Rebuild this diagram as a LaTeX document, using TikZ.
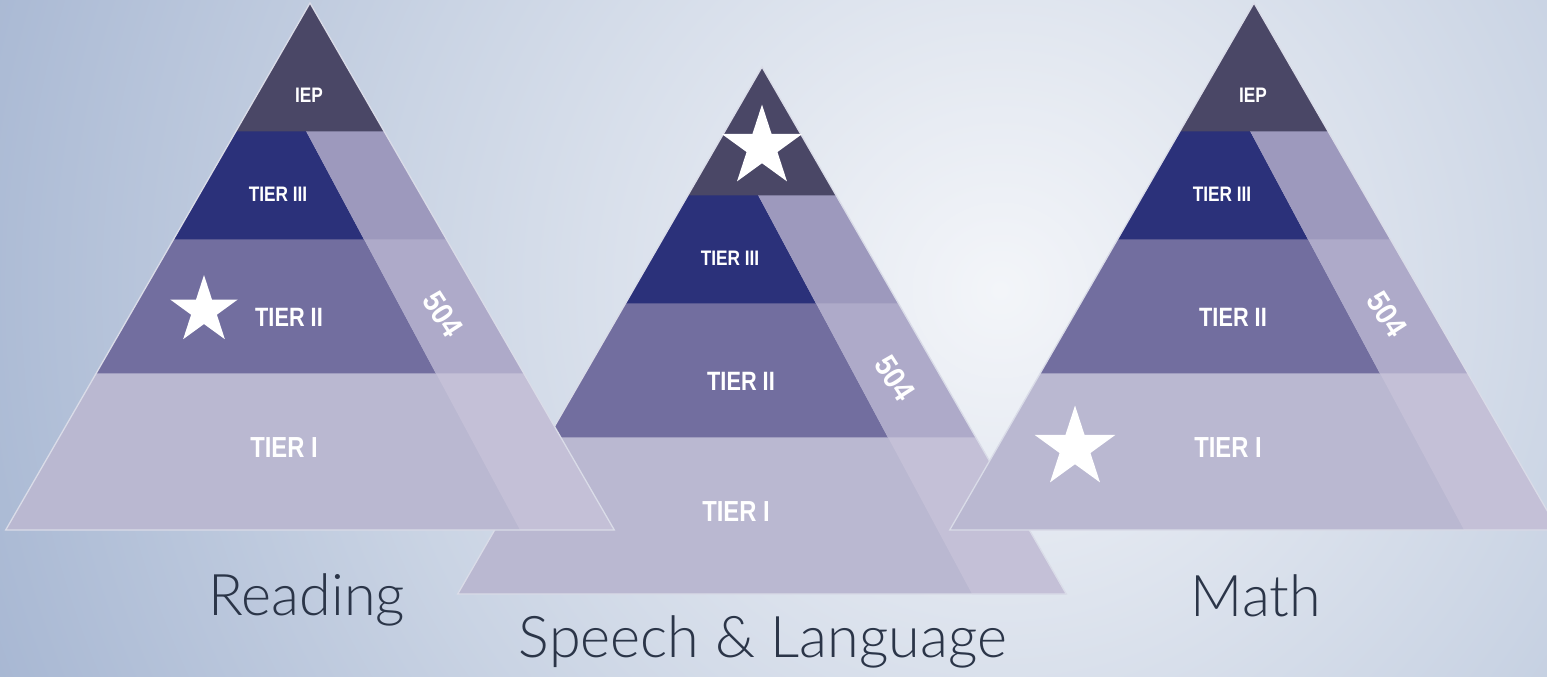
\documentclass[tikz,border=0pt]{standalone}
\usepackage{fontspec}
\setmainfont{Liberation Sans}
\newfontfamily\titlefont{Lato Light}
\usetikzlibrary{calc}

% background glow
\definecolor{bgA}{HTML}{F3F5F9}
\definecolor{bgB}{HTML}{E8ECF3}
\definecolor{bgC}{HTML}{CAD4E4}
\definecolor{bgD}{HTML}{A6B6D2}
\pgfdeclareradialshading{bgglow}{\pgfpoint{0bp}{0bp}}{%
  color(0bp)=(bgA); color(4bp)=(bgB); color(14bp)=(bgC);
  color(25bp)=(bgD); color(50bp)=(bgD)}

% layer colours
\definecolor{cIEP}{HTML}{4A4766}
\definecolor{cTthree}{HTML}{2B317A}
\definecolor{cTthreeS}{HTML}{9D99BD}
\definecolor{cTtwo}{HTML}{726E9F}
\definecolor{cTtwoS}{HTML}{AEAAC9}
\definecolor{cTone}{HTML}{BAB8D1}
\definecolor{cToneS}{HTML}{C4C0D7}
\definecolor{edgecol}{HTML}{DADCE8}
\definecolor{titlecol}{HTML}{2B3548}

\tikzset{
  edgeline/.style={draw=edgecol, line width=1.3pt, line join=miter},
  tierlbl/.style={text=white, inner sep=0pt, anchor=center},
  sublbl/.style={text=white, inner sep=0pt, anchor=center, rotate=-57},
  titlelbl/.style={text=titlecol, inner sep=0pt, anchor=base, font=\titlefont\fontsize{57.5}{57.5}\selectfont},
  starfill/.style={fill=white}
}

% condensed bold label text
\newcommand\tlab[2]{\scalebox{0.82}[1]{\fontsize{#1}{#1}\selectfont\bfseries #2}}
\newcommand\slab[1]{\scalebox{0.9}[1]{\fontsize{31}{31}\selectfont\bfseries #1}}

% one pyramid with its apex at (#1,#2)
\newcommand\tierpyramid[2]{%
  \begin{scope}[shift={(#1,#2)}]
    \fill[cTone] (0,0) -- (-304.3,527) -- (304.3,527) -- cycle;
    \fill[cToneS] (125.8,370) -- (213.6,370) -- (304.3,527) -- (210,527) -- cycle;
    \fill[cTtwo] (-213.6,370.3) -- (-136.3,236) -- (53.9,236) -- (125.8,370.3) -- cycle;
    \fill[cTtwoS] (53.9,236) -- (136.3,236) -- (213.6,370.3) -- (125.8,370.3) -- cycle;
    \fill[cTthree] (-136.3,236.3) -- (-73.9,128) -- (-4,128) -- (53.9,236.3) -- cycle;
    \fill[cTthreeS] (-4,128) -- (73.9,128) -- (136.3,236.3) -- (53.9,236.3) -- cycle;
    \fill[cIEP] (0,0) -- (-73.9,128.3) -- (73.9,128.3) -- cycle;
    \draw[edgeline] (0,0) -- (-304.3,527) -- (304.3,527) -- cycle;
  \end{scope}}

% five-pointed star centred at (#1,#2) with outer radius #3
\newcommand\starmark[3]{%
  \begin{scope}[shift={(#1,#2)}]
    \pgfmathsetmacro\rin{0.382*#3}
    \fill[starfill] (-90:#3) -- (-54:\rin) -- (-18:#3) -- (18:\rin) -- (54:#3)
      -- (90:\rin) -- (126:#3) -- (162:\rin) -- (198:#3) -- (234:\rin) -- cycle;
  \end{scope}}

\begin{document}
\begin{tikzpicture}[x=1pt, y=-1pt]
  \useasboundingbox (0,0) rectangle (1547,677);
  \clip (0,0) rectangle (1547,677);
  \shade[shading=bgglow] (1000,290) circle (1100);

  % Speech & Language (behind the others)
  \tierpyramid{762}{67}
  \starmark{762}{147}{42.5}
  \begin{scope}[shift={(762,67)}]
    \node[tierlbl] (sl-t3) at (-32,191.5) {\tlab{21}{TIER III}};
    \node[tierlbl] (sl-t2) at (-21,314.5) {\tlab{26.5}{TIER II}};
    \node[tierlbl] (sl-t1) at (-26,444.5) {\tlab{29}{TIER I}};
    \node[sublbl] (sl-504) at (133,311) {\slab{504}};
  \end{scope}

  % Reading
  \tierpyramid{310}{3}
  \starmark{204}{310.5}{35.5}
  \begin{scope}[shift={(310,3)}]
    \node[tierlbl] (rd-iep) at (-1,92.5) {\tlab{21}{IEP}};
    \node[tierlbl] (rd-t3) at (-32,191.5) {\tlab{21}{TIER III}};
    \node[tierlbl] (rd-t2) at (-21,314.5) {\tlab{26.5}{TIER II}};
    \node[tierlbl] (rd-t1) at (-26,444.5) {\tlab{29}{TIER I}};
    \node[sublbl] (rd-504) at (133,311) {\slab{504}};
  \end{scope}

  % Math
  \tierpyramid{1254}{3}
  \starmark{1075}{448}{42.5}
  \begin{scope}[shift={(1254,3)}]
    \node[tierlbl] (mt-iep) at (-1,92.5) {\tlab{21}{IEP}};
    \node[tierlbl] (mt-t3) at (-32,191.5) {\tlab{21}{TIER III}};
    \node[tierlbl] (mt-t2) at (-21,314.5) {\tlab{26.5}{TIER II}};
    \node[tierlbl] (mt-t1) at (-26,444.5) {\tlab{29}{TIER I}};
    \node[sublbl] (mt-504) at (133,311) {\slab{504}};
  \end{scope}

  % subject titles
  \node[titlelbl] (title-rd) at (307,615) {Reading};
  \node[titlelbl] (title-sl) at (763,657) {Speech \& Language};
  \node[titlelbl] (title-mt) at (1256,616) {Math};
\end{tikzpicture}
\end{document}
